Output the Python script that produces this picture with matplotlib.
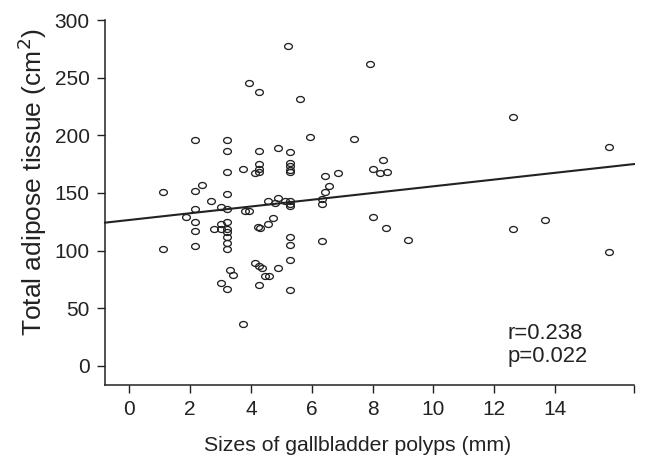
import matplotlib
matplotlib.use("Agg")
import matplotlib.pyplot as plt
import numpy as np
from matplotlib.path import Path

plt.rcParams['font.family'] = ['Liberation Sans', 'DejaVu Sans']

# Data
polyp_size = [
    1.12, 1.12, 1.85,
    2.17, 2.17, 2.17, 2.17, 2.17, 2.17, 2.38, 2.69, 2.80,
    3.00, 3.00, 3.00, 3.00,
    3.20, 3.20, 3.20, 3.20, 3.20, 3.20, 3.20, 3.20, 3.20, 3.20, 3.20, 3.20,
    3.30, 3.42, 3.74, 3.74, 3.82, 3.95, 3.95,
    4.13, 4.13, 4.27, 4.27, 4.27, 4.27, 4.27, 4.24, 4.30, 4.27, 4.27,
    4.37, 4.47, 4.58, 4.57, 4.57, 4.73, 4.78, 4.89, 4.89, 4.89, 5.11,
    5.21, 5.30, 5.30, 5.30, 5.30, 5.30, 5.30, 5.30, 5.30, 5.30, 5.30, 5.30, 5.30,
    5.62, 5.93, 6.35, 6.35, 6.35, 6.45, 6.45, 6.56, 6.87, 7.39, 7.92,
    8.03, 8.03, 8.23, 8.33, 8.47, 8.45, 9.18,
    12.62, 12.62, 13.68, 15.77, 15.77,
]
adipose_tissue = [
    151, 101, 129,
    196, 152, 136, 125, 117, 104, 157, 143, 119,
    138, 123, 119, 72,
    196, 186, 168.5, 149, 136, 124.5, 119, 116, 112, 107, 101.5, 67,
    83, 79, 171, 36, 134, 134, 245,
    167, 89, 238, 186, 175, 171, 168, 120.5, 119.5, 87, 70,
    85, 78, 78, 123, 143, 128, 141, 189, 146, 85, 143,
    277.5, 185.5, 176, 173, 170, 168, 143, 140.5, 138.5, 111.5, 105, 92, 66,
    231.6, 198.3, 144.5, 140.5, 108.5, 164.5, 151, 156, 167.5, 197, 262,
    171, 129, 167, 178.4, 168, 120, 109.5,
    216, 118.6, 126.4, 190, 99,
]
line_intercept = 126.6
line_slope = 2.92
stats_text = "r=0.238\np=0.022"
x_ticks = [0, 2, 4, 6, 8, 10, 12, 14]
y_ticks = [0, 50, 100, 150, 200, 250, 300]

fig = plt.figure(figsize=(6.47, 4.69), dpi=100)
ax = fig.add_axes([105/647, 1-385/469, (634-105)/647, (385-20)/469])

xmin, xmax = -0.8, 16.6
ymin, ymax = -16.5, 300
ax.set_xlim(xmin, xmax)
ax.set_ylim(ymin, ymax)

# elliptical open marker
t = np.linspace(0, 2*np.pi, 40)
verts = np.column_stack([1.3*np.cos(t), np.sin(t)])
ell = Path(verts, closed=True)

ink = '#222222'
ax.plot(polyp_size, adipose_tissue, linestyle='none', marker=ell, markersize=5.6,
        markerfacecolor='none', markeredgecolor=ink, markeredgewidth=0.95, clip_on=False)

xs = np.array([xmin, xmax])
ax.plot(xs, line_intercept + line_slope*xs, color=ink, linewidth=1.5, clip_on=False)

for s in ['top', 'right']:
    ax.spines[s].set_visible(False)
for s in ['left', 'bottom']:
    ax.spines[s].set_linewidth(1.1)
    ax.spines[s].set_color(ink)

ax.set_xticks(x_ticks + [xmax])
ax.set_xticklabels([str(v) for v in x_ticks] + [''])
ax.set_yticks(y_ticks)
ax.set_yticklabels([str(v) for v in y_ticks])
ax.tick_params(axis='both', direction='out', length=6, width=1.0, color=ink,
               labelsize=15, labelcolor=ink)
ax.tick_params(axis='x', pad=5)
ax.tick_params(axis='y', pad=5)

ax.set_xlabel('Sizes of gallbladder polyps (mm)', fontsize=15.3, color=ink)
ax.xaxis.set_label_coords(0.477, -0.139)
ax.set_ylabel('Total adipose tissue (cm$^2$)', fontsize=19, color=ink)
ax.yaxis.set_label_coords(-0.106, 0.556)

ax.text(0.913, 0.11, stats_text, transform=ax.transAxes, ha='right', va='center',
        fontsize=15.8, color=ink, linespacing=1.15, multialignment='left')

fig.savefig('out.png', dpi=100)
